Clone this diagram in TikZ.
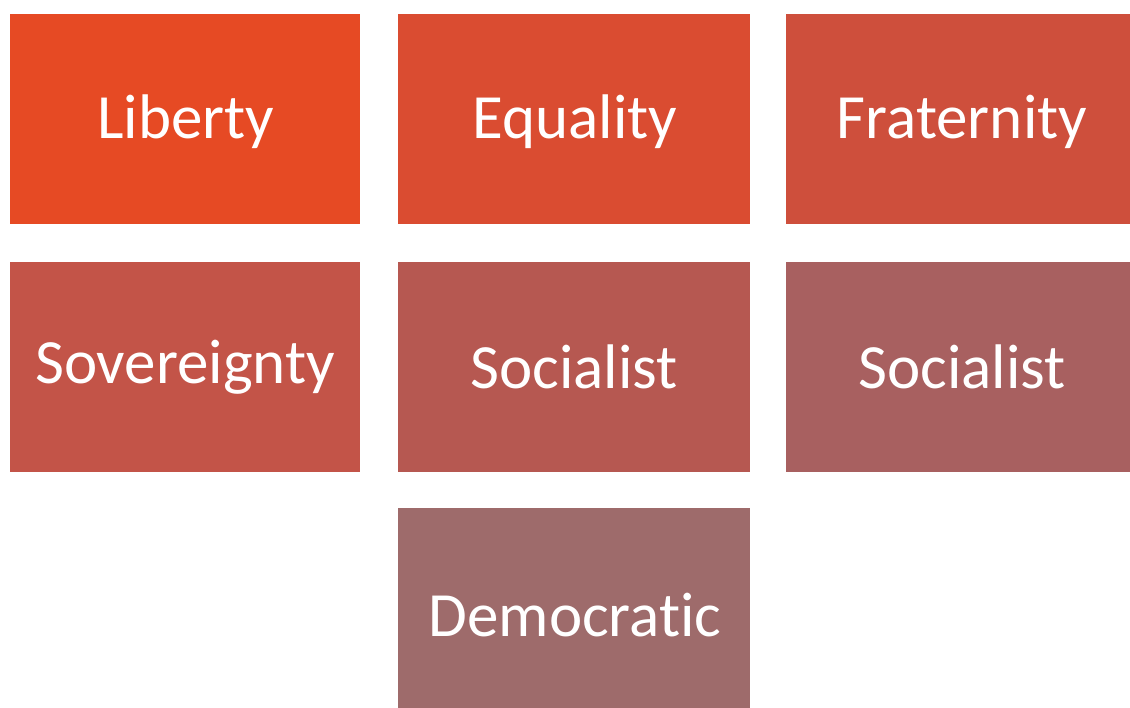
\documentclass[tikz,border=0pt]{standalone}
\usepackage{fontspec}
\setmainfont[Ligatures={NoCommon}]{Carlito}
\definecolor{c1}{HTML}{E64A24}
\definecolor{c2}{HTML}{DA4C31}
\definecolor{c3}{HTML}{CE4F3C}
\definecolor{c4}{HTML}{C35448}
\definecolor{c5}{HTML}{B65851}
\definecolor{c6}{HTML}{A86060}
\definecolor{c7}{HTML}{9E6B6B}
\begin{document}
\begin{tikzpicture}[x=1pt,y=-1pt,
  tile/.style={draw=none,inner sep=0pt,text=white,
    font=\fontsize{63}{70}\selectfont}]
\useasboundingbox (0,0) rectangle (1130,708);
\fill[c1] (10,14) rectangle (360,224);
\fill[c2] (398,14) rectangle (750,224);
\fill[c3] (786,14) rectangle (1130,224);
\fill[c4] (10,262) rectangle (360,472);
\fill[c5] (398,262) rectangle (750,472);
\fill[c6] (786,262) rectangle (1130,472);
\fill[c7] (398,508) rectangle (750,708);
\node[tile] (liberty) at (186,122) {Liberty};
\node[tile] (equality) at (575,122) {Equality};
\node[tile] (fraternity) at (962,122) {Fraternity};
\node[tile] (sovereignty) at (185,367) {Sovereignty};
\node[tile] (socialist1) at (574,367) {Socialist};
\node[tile] (socialist2) at (962,367) {Socialist};
\node[tile] (democratic) at (575,615) {Democratic};
\end{tikzpicture}
\end{document}
